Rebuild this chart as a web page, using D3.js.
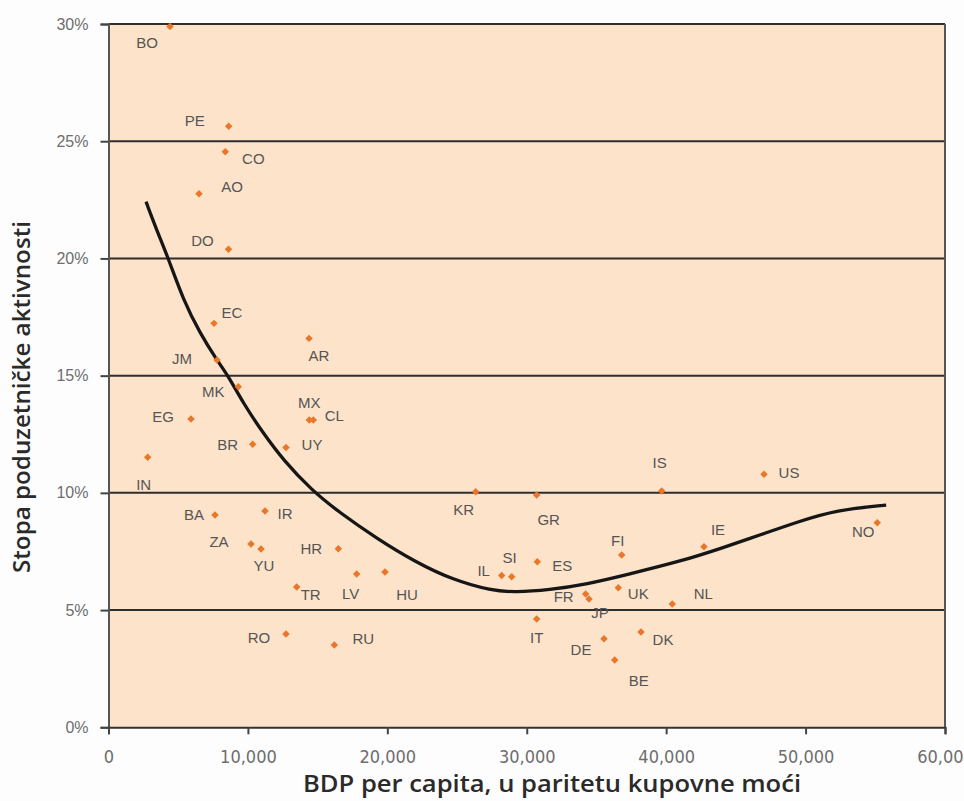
<!DOCTYPE html>
<html>
<head>
<meta charset="utf-8">
<script src="https://cdn.jsdelivr.net/npm/d3@7"></script>
<style>
  html, body { margin: 0; padding: 0; background: #fdfdfd; }
  svg { display: block; }
</style>
</head>
<body>
<svg id="chart" width="964" height="801"></svg>
<script>
// ---- data ----
const countries = ["BO","PE","CO","AO","DO","EC","AR","JM","MK","EG","MX","CL","BR","UY","IN",
  "BA","IR","ZA","YU","HR","LV","HU","TR","RO","RU","KR","GR","IS","FI","IE","SI","IL","ES",
  "UK","FR","JP","NL","IT","DE","DK","BE","US","NO"];
const gdp = [4411,8621,8378,6491,8607,7567,14381,7782,9310,5917,14403,14690,10343,12731,2812,
  7639,11225,10221,10938,16483,17802,19832,13499,12731,16196,26338,30713,39679,36810,42713,28920,28203,30756,
  36566,34227,34464,40439,30713,35540,38194,36308,47016,55142];
const tea = [29.89,25.64,24.55,22.76,20.39,17.23,16.59,15.67,14.53,13.15,13.11,13.11,12.07,11.94,11.52,
  9.06,9.23,7.82,7.61,7.62,6.54,6.62,5.98,3.98,3.51,10.05,9.91,10.08,7.35,7.70,6.42,6.48,7.06,
  5.95,5.69,5.47,5.26,4.62,3.78,4.07,2.87,10.79,8.73];
// trend curve
const trendX = [2690,3457,4289,5365,6563,7761,8593,9669,11103,12538,14560,16483,19230,21984,24731,
  27478,29128,31595,34350,37097,41207,43968,46715,49455,52209,55781];
const trendY = [22.42,21.21,20.01,18.23,16.81,15.67,14.99,13.82,12.54,11.40,10.12,9.20,8.06,7.06,6.28,
  5.83,5.76,5.86,6.11,6.50,7.11,7.64,8.20,8.77,9.27,9.48];
const yTicks = [0,5,10,15,20,25,30];
const xTicks = [0,10000,20000,30000,40000,50000,60000];
const xTitle = "BDP per capita, u paritetu kupovne moći";
const yTitle = "Stopa poduzetničke aktivnosti";

// ---- layout (label offsets in px from each point) ----
const labelOffset = {
  BO:[-23,16], PE:[-34,-6], CO:[28,7], AO:[33,-7], DO:[-26,-9], EC:[18,-11], AR:[10,17],
  JM:[-35,-1], MK:[-25,5], EG:[-28,-3], MX:[0,-17], CL:[21,-4], BR:[-25,0], UY:[26,-3],
  IN:[-4,27], BA:[-21,0], IR:[20,3], ZA:[-32,-2], YU:[3,17], HR:[-27,0], LV:[-6,20],
  HU:[22,22], TR:[14,7], RO:[-27,4], RU:[29,-7], KR:[-12,18], GR:[12,25], IS:[-2,-28],
  FI:[-4,-14], IE:[14,-17], SI:[-2,-19], IL:[-18,-5], ES:[25,4], UK:[20,6], FR:[-22,3],
  JP:[11,13], NL:[31,-10], IT:[0,19], DE:[-23,11], DK:[22,8], BE:[24,20], US:[25,-2], NO:[-14,9]
};

const svg = d3.select("#chart");
const x = d3.scaleLinear().domain([0,60000]).range([108.5,945]);
const y = d3.scaleLinear().domain([0,30]).range([727.3,24]);

// plot background
svg.append("rect")
  .attr("x", x(0)).attr("y", y(30))
  .attr("width", x(60000)-x(0)).attr("height", y(0)-y(30))
  .attr("fill", "#fde3c9");

// gridlines
svg.append("g").selectAll("line").data(yTicks.filter(d=>d>0)).join("line")
  .attr("x1", x(0)).attr("x2", x(60000))
  .attr("y1", d=>y(d)).attr("y2", d=>y(d))
  .attr("stroke", "#2e2e2e").attr("stroke-width", 2);

// right border
svg.append("line")
  .attr("x1", x(60000)).attr("x2", x(60000)).attr("y1", y(30)).attr("y2", y(0))
  .attr("stroke", "#555").attr("stroke-width", 2);

// y axis
const yAxis = svg.append("g").attr("transform", `translate(${x(0)},0)`)
  .call(d3.axisLeft(y).tickValues(yTicks).tickFormat(d=>d+"%").tickSize(8).tickPadding(12));
yAxis.select(".domain").attr("stroke", "#555").attr("stroke-width", 2);
yAxis.selectAll(".tick line").attr("stroke", "#444").attr("stroke-width", 2);
yAxis.selectAll(".tick text").attr("fill", "#6e6e6e")
  .style("font-family", "'Liberation Sans', Arial, sans-serif").style("font-size", "16px");

// x axis
const xAxis = svg.append("g").attr("transform", `translate(0,${y(0)})`)
  .call(d3.axisBottom(x).tickValues(xTicks).tickFormat(d3.format(",")).tickSize(7).tickPadding(16));
xAxis.select(".domain").attr("stroke", "#333").attr("stroke-width", 2);
xAxis.selectAll(".tick line").attr("stroke", "#444").attr("stroke-width", 2);
xAxis.selectAll(".tick text").attr("fill", "#6e6e6e")
  .style("font-family", "'Liberation Sans Narrow', 'DejaVu Sans Condensed', sans-serif").style("font-size", "18px");

// trend line
const trend = trendX.map((v,i)=>[v, trendY[i]]);
svg.append("path").datum(trend)
  .attr("fill", "none").attr("stroke", "#161616").attr("stroke-width", 3.3)
  .attr("d", d3.line().x(d=>x(d[0])).y(d=>y(d[1])).curve(d3.curveBasis));

// points
const pts = countries.map((c,i)=>({c, gx: gdp[i], t: tea[i]}));
svg.append("g").selectAll("path").data(pts).join("path")
  .attr("d", d3.symbol(d3.symbolSquare, 28)())
  .attr("transform", d=>`translate(${x(d.gx)},${y(d.t)}) rotate(45)`)
  .attr("fill", "#e8772a");

// labels
svg.append("g").selectAll("text").data(pts).join("text")
  .attr("x", d=>x(d.gx) + labelOffset[d.c][0])
  .attr("y", d=>y(d.t) + labelOffset[d.c][1])
  .attr("text-anchor", "middle").attr("dominant-baseline", "central")
  .attr("fill", "#555")
  .style("font-family", "'Liberation Sans', Arial, sans-serif").style("font-size", "15px")
  .text(d=>d.c);

// axis titles
svg.append("text")
  .attr("x", 552).attr("y", 792)
  .attr("text-anchor", "middle")
  .attr("fill", "#2a2a2a")
  .attr("textLength", 498).attr("lengthAdjust", "spacingAndGlyphs")
  .style("font-family", "'Open Sans', sans-serif").style("font-weight", 600).style("font-size", "24px")
  .text(xTitle);
svg.append("text")
  .attr("transform", "translate(30,397) rotate(-90)")
  .attr("text-anchor", "middle")
  .attr("fill", "#2a2a2a")
  .attr("textLength", 352).attr("lengthAdjust", "spacingAndGlyphs")
  .style("font-family", "'Open Sans', sans-serif").style("font-weight", 600).style("font-size", "24px")
  .text(yTitle);
</script>
</body>
</html>
